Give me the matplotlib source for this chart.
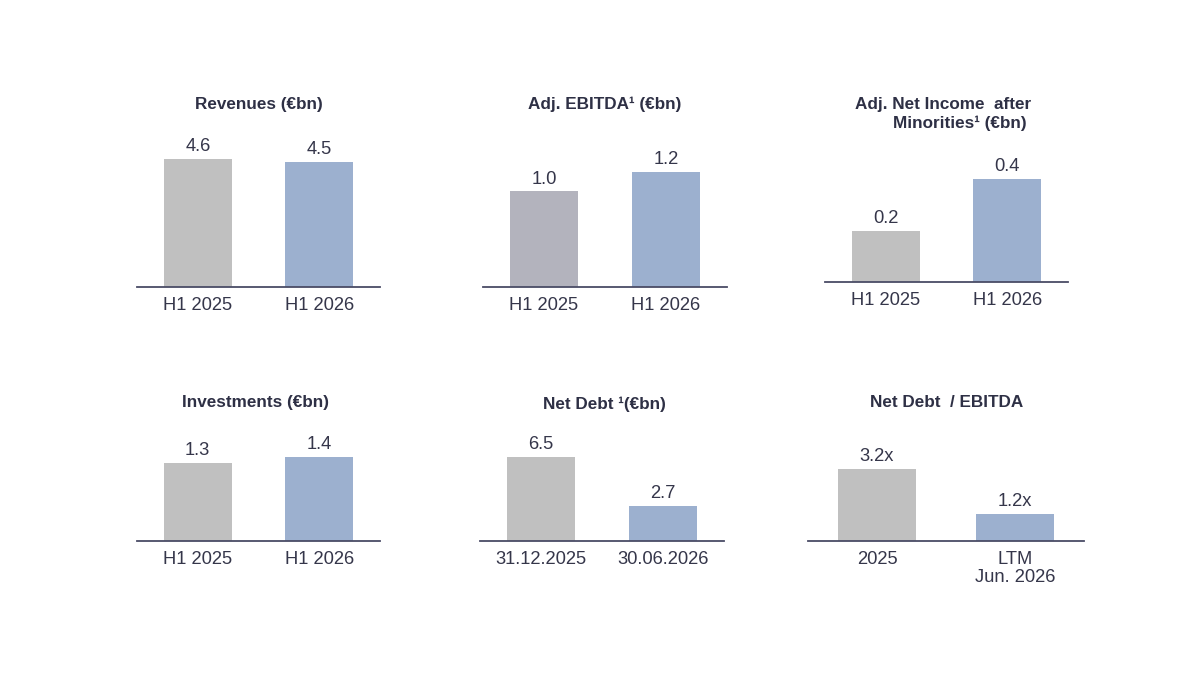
import matplotlib
matplotlib.use("Agg")
import matplotlib.pyplot as plt

plt.rcParams['font.family'] = ['Liberation Sans', 'DejaVu Sans']

# ---------------- data ----------------
rev_labels = ["H1 2025", "H1 2026"]
rev_values = [4.6, 4.5]

ebitda_labels = ["H1 2025", "H1 2026"]
ebitda_values = [1.0, 1.2]

ni_labels = ["H1 2025", "H1 2026"]
ni_values = [0.2, 0.4]

inv_labels = ["H1 2025", "H1 2026"]
inv_values = [1.3, 1.4]

nd_labels = ["31.12.2025", "30.06.2026"]
nd_values = [6.5, 2.7]

lev_labels = ["2025", "LTM\nJun. 2026"]
lev_values = [3.2, 1.2]

# ---------------- style ----------------
W, H = 1200, 686
GRAY = "#c0c0c0"
GRAY2 = "#b3b3bd"
BLUE = "#9cb0cf"
LINE = "#4a4c66"
TXT = "#35364a"
TITLE = "#2e3045"

fig = plt.figure(figsize=(W / 100, H / 100), dpi=100)

AX_H = 150  # axes height in pixels


def panel(labels, values, fmt, left, right, base, tallest_px, colors):
    ax = fig.add_axes([left / W, 1 - base / H, (right - left) / W, AX_H / H])
    x = list(range(len(values)))
    ax.bar(x, values, width=0.56, color=colors, zorder=2)
    ax.set_xlim(-0.5, 1.5)
    ax.set_ylim(0, max(values) * AX_H / tallest_px)
    for xi, v in zip(x, values):
        ax.annotate(fmt.format(v), (xi, v), xytext=(0, 5.5), textcoords="offset points",
                    ha="center", va="baseline", fontsize=13.2, color=TXT)
    ax.set_xticks(x)
    ax.set_xticklabels(labels, fontsize=13.2, color=TXT, linespacing=1.05)
    ax.tick_params(axis="x", length=0, pad=7.5)
    ax.set_yticks([])
    for s in ("top", "left", "right"):
        ax.spines[s].set_visible(False)
    ax.spines["bottom"].set_color(LINE)
    ax.spines["bottom"].set_linewidth(1.3)
    ax.patch.set_alpha(0)
    return ax


def title(txt, xc, yc):
    fig.text(xc / W, 1 - yc / H, txt, ha="center", va="center", fontsize=12.3,
             fontweight="bold", color=TITLE)


panel(rev_labels, rev_values, "{:.1f}", 137, 380, 287, 128, [GRAY, BLUE])
title("Revenues (€bn)", 259, 104)

panel(ebitda_labels, ebitda_values, "{:.1f}", 483, 727, 287, 115, [GRAY2, BLUE])
title("Adj. EBITDA¹ (€bn)", 605, 104)

panel(ni_labels, ni_values, "{:.1f}", 825, 1068, 282, 103, [GRAY, BLUE])
title("Adj. Net Income  after", 943, 104)
title("Minorities¹ (€bn)", 960, 123)

panel(inv_labels, inv_values, "{:.1f}", 137, 380, 541, 84, [GRAY, BLUE])
title("Investments (€bn)", 256, 403)

panel(nd_labels, nd_values, "{:.1f}", 480, 724, 541, 84, [GRAY, BLUE])
title("Net Debt ¹(€bn)", 604, 404)

panel(lev_labels, lev_values, "{:.1f}x", 808, 1084, 541, 72, [GRAY, BLUE])
title("Net Debt  / EBITDA", 947, 403)

fig.savefig("out.png", dpi=100, facecolor="white")
